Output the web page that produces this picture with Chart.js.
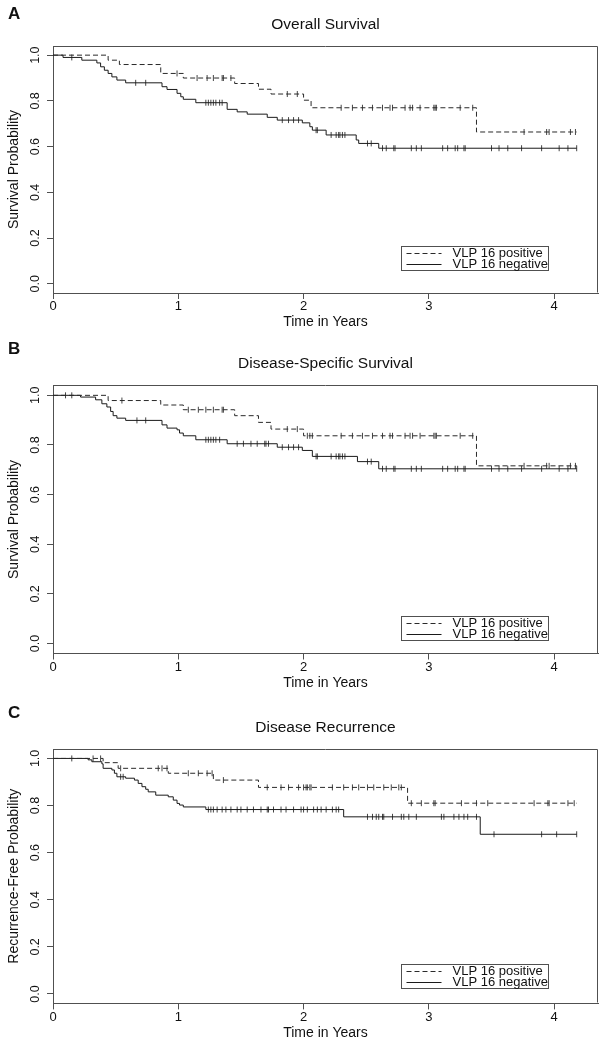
<!DOCTYPE html>
<html><head><meta charset="utf-8">
<script src="https://cdn.jsdelivr.net/npm/chart.js@4.4.1/dist/chart.umd.min.js"></script>
<style>
html,body{margin:0;padding:0;background:#fff;}
#wrap{position:relative;width:603px;height:1049px;overflow:hidden;background:#fff;}
canvas{position:absolute;left:0;}
.lbl{position:absolute;left:8px;font:bold 17px "Liberation Sans",Arial,sans-serif;line-height:17px;color:#111;}
</style></head><body>
<div id="wrap">
<canvas id="c0" width="603" height="340" style="top:0px;width:603px;height:340px"></canvas>
<canvas id="c1" width="603" height="365" style="top:340px;width:603px;height:365px"></canvas>
<canvas id="c2" width="603" height="344" style="top:705px;width:603px;height:344px"></canvas>
<div class="lbl" id="l0" style="top:5px">A</div>
<div class="lbl" id="l1" style="top:340px">B</div>
<div class="lbl" id="l2" style="top:704px">C</div>
</div>
<script>
// ---------- data ----------
const panelTitles = ['Overall Survival', 'Disease-Specific Survival', 'Disease Recurrence'];
const yTitles = ['Survival Probability', 'Survival Probability', 'Recurrence-Free Probability'];
const xTitle = 'Time in Years';
const legendLabels = ['VLP 16 positive', 'VLP 16 negative'];
const xTicks = [0, 1, 2, 3, 4];
const yTicks = [0, 0.2, 0.4, 0.6, 0.8, 1.0];

// Panel A: overall survival
const aPosTime = [0, 0.44, 0.53, 0.86, 1.04, 1.45, 1.64, 1.74, 2.00, 2.06, 3.38, 4.18];
const aPosSurv = [1, 0.978, 0.959, 0.92, 0.90, 0.876, 0.851, 0.83, 0.803, 0.77, 0.664, 0.664];
const aPosCens = [0.99, 1.15, 1.23, 1.28, 1.35, 1.36, 1.42, 1.87, 1.95, 2.30, 2.39, 2.47, 2.55, 2.63, 2.69, 2.71, 2.81, 2.85, 2.87, 2.93, 3.04, 3.05, 3.06, 3.25, 3.35, 3.76, 3.94, 3.96, 4.13, 4.17];
const aNegTime = [0, 0.08, 0.23, 0.35, 0.38, 0.41, 0.44, 0.47, 0.51, 0.58, 0.87, 0.91, 0.99, 1.02, 1.04, 1.14, 1.39, 1.47, 1.55, 1.71, 1.79, 1.99, 2.05, 2.07, 2.18, 2.42, 2.44, 2.60, 4.18];
const aNegSurv = [1, 0.99, 0.978, 0.966, 0.949, 0.934, 0.92, 0.905, 0.891, 0.879, 0.862, 0.85, 0.833, 0.818, 0.807, 0.792, 0.763, 0.752, 0.742, 0.728, 0.716, 0.704, 0.687, 0.672, 0.651, 0.629, 0.614, 0.593, 0.593];
const aNegCens = [0.15, 0.66, 0.74, 1.22, 1.24, 1.26, 1.28, 1.30, 1.33, 1.35, 1.83, 1.88, 1.92, 1.96, 2.10, 2.11, 2.22, 2.26, 2.28, 2.29, 2.31, 2.33, 2.51, 2.54, 2.63, 2.66, 2.72, 2.73, 2.86, 2.90, 2.94, 3.11, 3.15, 3.21, 3.23, 3.28, 3.29, 3.50, 3.56, 3.63, 3.74, 3.90, 4.04, 4.11, 4.18];

// Panel B: disease-specific survival
const bPosTime = [0, 0.44, 0.86, 1.04, 1.45, 1.64, 1.74, 2.00, 3.38, 4.18];
const bPosSurv = [1, 0.979, 0.961, 0.942, 0.918, 0.891, 0.864, 0.837, 0.716, 0.716];
const bPosCens = [0.55, 1.08, 1.16, 1.22, 1.28, 1.35, 1.36, 1.87, 1.95, 2.03, 2.05, 2.07, 2.30, 2.39, 2.47, 2.55, 2.63, 2.69, 2.71, 2.81, 2.85, 2.87, 2.93, 3.04, 3.05, 3.06, 3.25, 3.35, 3.76, 3.94, 3.96, 4.13, 4.17];
const bNegTime = [0, 0.22, 0.34, 0.39, 0.43, 0.46, 0.48, 0.51, 0.58, 0.87, 0.91, 0.99, 1.01, 1.04, 1.14, 1.39, 1.79, 1.99, 2.07, 2.43, 2.60, 4.18];
const bNegSurv = [1, 0.993, 0.982, 0.966, 0.953, 0.935, 0.918, 0.908, 0.899, 0.881, 0.868, 0.861, 0.848, 0.837, 0.821, 0.805, 0.791, 0.778, 0.754, 0.733, 0.704, 0.704];
const bNegCens = [0.10, 0.15, 0.67, 0.74, 1.22, 1.24, 1.26, 1.28, 1.30, 1.33, 1.47, 1.52, 1.58, 1.63, 1.69, 1.70, 1.72, 1.83, 1.88, 1.92, 1.96, 2.10, 2.11, 2.22, 2.26, 2.28, 2.29, 2.31, 2.33, 2.51, 2.54, 2.63, 2.66, 2.72, 2.73, 2.86, 2.90, 2.94, 3.11, 3.15, 3.21, 3.23, 3.28, 3.29, 3.50, 3.56, 3.63, 3.74, 3.90, 4.04, 4.11, 4.18];

// Panel C: disease recurrence
const cPosTime = [0, 0.40, 0.52, 0.92, 1.28, 1.64, 2.83, 4.18];
const cPosSurv = [1, 0.982, 0.958, 0.937, 0.908, 0.877, 0.81, 0.81];
const cPosCens = [0.32, 0.38, 0.54, 0.84, 0.87, 0.91, 1.08, 1.16, 1.23, 1.27, 1.36, 1.71, 1.82, 1.88, 1.96, 2.00, 2.02, 2.03, 2.05, 2.06, 2.23, 2.32, 2.39, 2.44, 2.51, 2.56, 2.64, 2.70, 2.76, 2.78, 2.86, 2.94, 3.04, 3.05, 3.26, 3.38, 3.47, 3.84, 3.95, 3.96, 4.11, 4.16];
const cNegTime = [0, 0.28, 0.31, 0.39, 0.40, 0.47, 0.49, 0.51, 0.58, 0.65, 0.68, 0.71, 0.74, 0.76, 0.82, 0.92, 0.96, 0.99, 1.01, 1.04, 1.22, 2.32, 3.41, 4.18];
const cNegSurv = [1, 0.994, 0.986, 0.977, 0.958, 0.951, 0.937, 0.922, 0.916, 0.908, 0.894, 0.880, 0.869, 0.858, 0.844, 0.837, 0.823, 0.809, 0.802, 0.794, 0.783, 0.752, 0.678, 0.678];
const cNegCens = [0.15, 0.54, 0.56, 1.24, 1.26, 1.28, 1.31, 1.35, 1.38, 1.42, 1.47, 1.50, 1.55, 1.60, 1.66, 1.71, 1.72, 1.76, 1.82, 1.86, 1.92, 1.98, 2.00, 2.03, 2.08, 2.11, 2.14, 2.18, 2.23, 2.26, 2.28, 2.51, 2.55, 2.58, 2.60, 2.63, 2.64, 2.71, 2.78, 2.80, 2.84, 2.90, 3.10, 3.12, 3.20, 3.24, 3.28, 3.31, 3.38, 3.52, 3.90, 4.02, 4.18];

// ---------- layout (pixels) ----------
const layouts = [
  {h: 340, areaTop: 46, areaBottom: 293, titleY: 25, legRight: 50, legBottom: 23},
  {h: 365, areaTop: 45.4, areaBottom: 313.5, titleY: 24, legRight: 50, legBottom: 14},
  {h: 344, areaTop: 44, areaBottom: 298.4, titleY: 23, legRight: 50, legBottom: 15}
];
const panels = [
  {pos: [aPosTime, aPosSurv, aPosCens], neg: [aNegTime, aNegSurv, aNegCens]},
  {pos: [bPosTime, bPosSurv, bPosCens], neg: [bNegTime, bNegSurv, bNegCens]},
  {pos: [cPosTime, cPosSurv, cPosCens], neg: [cNegTime, cNegSurv, cNegCens]}
];

const FONT = '"Liberation Sans", Arial, Helvetica, sans-serif';
const AXIS_COL = '#505050';
const TEXT_COL = '#111';
const DASH = [5, 3];

function stepAt(times, surv, t) {
  let v = surv[0];
  for (let i = 0; i < times.length; i++) { if (times[i] <= t) v = surv[i]; }
  return v;
}
function curvePts(times, surv) { return times.map((t, i) => ({x: t, y: surv[i]})); }
function censorPts(times, surv, cens) { return cens.map(t => ({x: t, y: stepAt(times, surv, t)})); }

const boxPlugin = {
  id: 'box',
  afterDraw(chart) {
    const {ctx, chartArea: a} = chart;
    ctx.save();
    ctx.strokeStyle = AXIS_COL; ctx.lineWidth = 1;
    const l = Math.round(a.left) + 0.5, r = Math.round(a.right) - 0.5;
    const t = Math.round(a.top) + 0.5, b = Math.round(a.bottom) - 0.5;
    ctx.beginPath();
    ctx.moveTo(l, t); ctx.lineTo(r, t); ctx.lineTo(r, b);
    ctx.stroke();
    ctx.restore();
  }
};

const legendPlugin = {
  id: 'rlegend',
  afterDraw(chart, args, opts) {
    const {ctx, chartArea: a} = chart;
    const w = 147, h = 24;
    const right = Math.round(a.right - opts.right) + 0.5;
    const bottom = Math.round(a.bottom - opts.bottom) + 0.5;
    const left = right - w, top = bottom - h;
    ctx.save();
    ctx.fillStyle = '#fff';
    ctx.fillRect(left, top, w, h);
    ctx.strokeStyle = AXIS_COL; ctx.lineWidth = 1;
    ctx.strokeRect(left, top, w, h);
    const rows = [top + 6, top + 17.5];
    chart.data.datasets.slice(0, 2).forEach((ds, i) => {
      ctx.strokeStyle = ds.borderColor;
      ctx.setLineDash(ds.borderDash || []);
      ctx.beginPath();
      ctx.moveTo(left + 5, Math.round(rows[i]) + 0.5);
      ctx.lineTo(left + 40, Math.round(rows[i]) + 0.5);
      ctx.stroke();
      ctx.setLineDash([]);
      ctx.fillStyle = TEXT_COL;
      ctx.font = '13px ' + FONT;
      ctx.textBaseline = 'middle';
      ctx.textAlign = 'left';
      ctx.fillText(legendLabels[i], left + 51, rows[i] + 0.5);
    });
    ctx.restore();
  }
};

panels.forEach((p, idx) => {
  const L = layouts[idx];
  const xAxisH = 38;
  const titleLH = 18.6;
  new Chart(document.getElementById('c' + idx), {
    type: 'line',
    data: {
      datasets: [
        {label: legendLabels[0], data: curvePts(p.pos[0], p.pos[1]), stepped: 'before', borderColor: '#2a2a2a', borderWidth: 1, borderDash: DASH, pointRadius: 0, fill: false},
        {label: legendLabels[1], data: curvePts(p.neg[0], p.neg[1]), stepped: 'before', borderColor: '#1a1a1a', borderWidth: 1, pointRadius: 0, fill: false},
        {label: 'pos censored', data: censorPts(p.pos[0], p.pos[1], p.pos[2]), showLine: false, pointStyle: 'line', pointRotation: 90, pointRadius: 3, pointBorderWidth: 1, borderColor: '#444', pointBorderColor: '#444'},
        {label: 'neg censored', data: censorPts(p.neg[0], p.neg[1], p.neg[2]), showLine: false, pointStyle: 'line', pointRotation: 90, pointRadius: 3, pointBorderWidth: 1, borderColor: '#444', pointBorderColor: '#444'}
      ]
    },
    options: {
      responsive: false,
      animation: false,
      events: [],
      layout: {padding: {top: 0, left: 0, right: 5, bottom: L.h - L.areaBottom - xAxisH}},
      plugins: {
        legend: {display: false},
        tooltip: {enabled: false},
        title: {
          display: true, text: panelTitles[idx], fullSize: false,
          color: TEXT_COL, font: {family: FONT, size: 15.5, weight: 'normal', lineHeight: 1.2},
          padding: {top: L.titleY - titleLH / 2, bottom: L.areaTop - L.titleY - titleLH / 2}
        },
        rlegend: {right: L.legRight, bottom: L.legBottom}
      },
      scales: {
        x: {
          type: 'linear', min: 0, max: 4.35,
          afterBuildTicks: s => { s.ticks = xTicks.map(v => ({value: v})); },
          afterFit: s => { s.height = xAxisH; },
          border: {display: true, color: AXIS_COL, width: 1},
          grid: {display: true, drawOnChartArea: false, drawTicks: true, tickLength: 6, color: AXIS_COL},
          ticks: {color: TEXT_COL, padding: 0, font: {family: FONT, size: 13}, maxRotation: 0, autoSkip: false, callback: v => String(v)},
          title: {display: true, text: xTitle, color: TEXT_COL, font: {family: FONT, size: 14}, padding: {top: 0, bottom: 0}}
        },
        y: {
          type: 'linear', min: -0.04, max: 1.04,
          afterBuildTicks: s => { s.ticks = yTicks.map(v => ({value: v})); },
          afterFit: s => { s.width = 53; },
          border: {display: true, color: AXIS_COL, width: 1},
          grid: {display: true, drawOnChartArea: false, drawTicks: true, tickLength: 6, color: AXIS_COL},
          ticks: {color: TEXT_COL, padding: 3, minRotation: 90, maxRotation: 90, crossAlign: 'center', autoSkip: false, font: {family: FONT, size: 12.5}, callback: v => Number(v).toFixed(1)},
          title: {display: true, text: yTitles[idx], color: TEXT_COL, font: {family: FONT, size: 14}, padding: {top: 6, bottom: 0}}
        }
      }
    },
    plugins: [boxPlugin, legendPlugin]
  });
});
</script>
</body></html>
